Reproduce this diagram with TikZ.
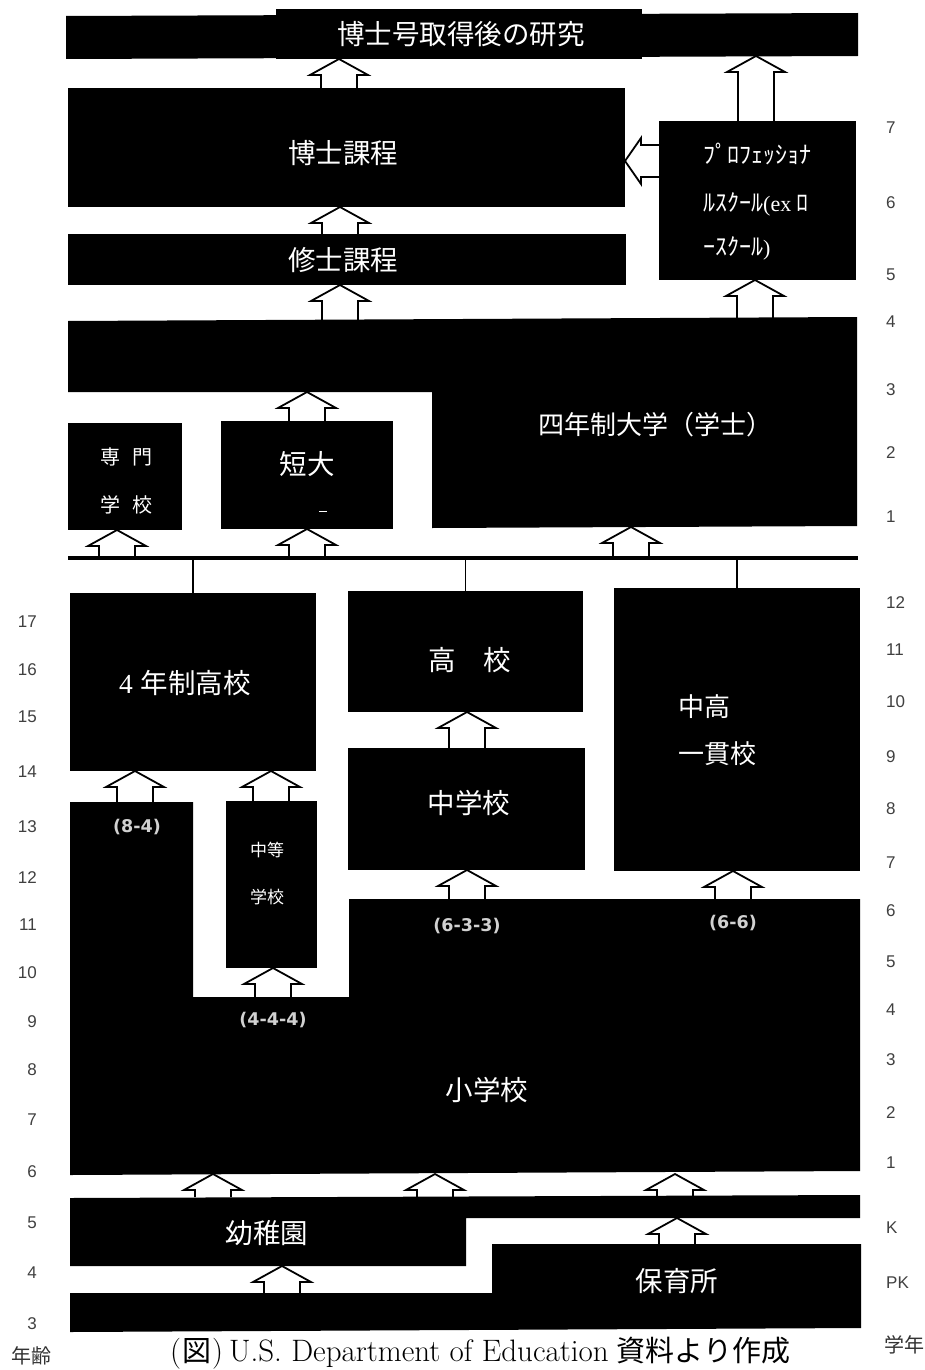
\documentclass[tikz,border=0pt]{standalone}
\usepackage{fontspec}
\usetikzlibrary{calc}
\newfontfamily\jpf{Noto Sans CJK JP}
\newfontfamily\numf{Liberation Sans}
\newfontfamily\seqf{DejaVu Sans}
\newfontfamily\serifL{Liberation Serif}
\newcommand\uarr[3]{\filldraw[arr] let \p1=(#2), \p2=(#3) in
  (#1-18,\y2) -- (#1-18,\y1-16pt) -- (#1-29,\y1-16pt) -- (#1,\y1) --
  (#1+29,\y1-16pt) -- (#1+18,\y1-16pt) -- (#1+18,\y2);}
\begin{document}
\begin{tikzpicture}[x=1pt,y=-1pt,
  box/.style={fill=black,draw=none,anchor=north west,inner sep=0pt,outer sep=0pt},
  blk/.style={fill=black,draw=none},
  jlab/.style={text=white,inner sep=0pt,font=\jpf\fontsize{27.5}{30}\selectfont},
  jmid/.style={text=white,inner sep=0pt,font=\jpf\fontsize{20}{22}\selectfont},
  jsmall/.style={text=white,inner sep=0pt,font=\jpf\fontsize{17}{19}\selectfont},
  proflab/.style={text=white,inner sep=0pt,anchor=west,font=\jpf\fontsize{24}{26}\selectfont},
  num/.style={text=black!75,inner sep=0pt,font=\numf\fontsize{17}{17}\selectfont},
  lnum/.style={num,anchor=east},
  rnum/.style={num,anchor=west},
  seqlab/.style={text=black!18,inner sep=0pt,font=\seqf\bfseries\fontsize{17.5}{18}\selectfont},
  side/.style={text=black!80,inner sep=0pt,font=\jpf\fontsize{20}{22}\selectfont},
  arr/.style={draw=black,fill=white,line width=1.8pt,line join=miter},
  conn/.style={draw=black,line width=1.5pt},
  barline/.style={draw=black,line width=4.5pt}]

\useasboundingbox (0,0) rectangle (924,1370);
\fill[white] (0,0) rectangle (924,1370);

% ---------- named reference points on the block outlines ----------
\coordinate (topbarR) at (756,56);
\coordinate (univTopL) at (340,320);
\coordinate (univTopR) at (755,318);
\coordinate (univStep) at (307,392);
\coordinate (univBot) at (631,527);
\coordinate (barL) at (68,558);
\coordinate (barR) at (858,558);
\coordinate (barTop) at (0,556);
\coordinate (shoTopL) at (135,802);
\coordinate (shoNotch) at (273,997);
\coordinate (shoTopR) at (600,899);
\coordinate (shoBot) at (400,1174);
\coordinate (youTop) at (400,1197);
\coordinate (youBotL) at (282,1266);
\coordinate (youBotR) at (677,1218);
\coordinate (hoiTopL) at (282,1293);
\coordinate (hoiTopR) at (677,1244);

% ---------- nodes (boxes) ----------
\node[box,minimum width=366pt,minimum height=50pt] (post) at (276,9) {};
\node[box,minimum width=557pt,minimum height=119pt] (hakase) at (68,88) {};
\node[box,minimum width=558pt,minimum height=51pt] (shushi) at (68,234) {};
\node[box,minimum width=197pt,minimum height=159pt] (prof) at (659,121) {};
\node[box,minimum width=114pt,minimum height=107pt] (senmon) at (68,423) {};
\node[box,minimum width=172pt,minimum height=108pt] (tandai) at (221,421) {};
\node[box,minimum width=246pt,minimum height=178pt] (kou4) at (70,593) {};
\node[box,minimum width=235pt,minimum height=121pt] (koukou) at (348,591) {};
\node[box,minimum width=237pt,minimum height=122pt] (chugaku) at (348,748) {};
\node[box,minimum width=246pt,minimum height=283pt] (ikkan) at (614,588) {};
\node[box,minimum width=91pt,minimum height=167pt] (chutou) at (226,801) {};

% ---------- arrows ----------
\uarr{339}{post.south}{hakase.north}
\uarr{756}{topbarR}{prof.north}
\uarr{340}{hakase.south}{shushi.north}
\uarr{340}{shushi.south}{univTopL}
\uarr{755}{prof.south}{univTopR}
\uarr{307}{univStep}{tandai.north}
\uarr{117}{senmon.south}{barTop}
\uarr{307}{tandai.south}{barTop}
\uarr{631}{univBot}{barTop}
\uarr{467}{koukou.south}{chugaku.north}
\uarr{135}{kou4.south}{shoTopL}
\uarr{271}{kou4.south}{chutou.north}
\uarr{273}{chutou.south}{shoNotch}
\uarr{467}{chugaku.south}{shoTopR}
\uarr{733}{ikkan.south}{shoTopR}
\uarr{213}{shoBot}{youTop}
\uarr{435}{shoBot}{youTop}
\uarr{675}{shoBot}{youTop}
\uarr{282}{youBotL}{hoiTopL}
\uarr{677}{youBotR}{hoiTopR}
\filldraw[arr] let \p1=(hakase.east), \p2=(prof.west) in
  (\x2,145) -- (\x1+16pt,145) -- (\x1+16pt,138) -- (\x1,161) --
  (\x1+16pt,184) -- (\x1+16pt,177) -- (\x2,177);

% ---------- blocks ----------
\fill[blk] (66,16) -- (858,13) -- (858,56) -- (66,59) -- cycle;
\fill[blk] (post.north west) rectangle (post.south east);
\fill[blk] (hakase.north west) rectangle (hakase.south east);
\fill[blk] (shushi.north west) rectangle (shushi.south east);
\fill[blk] (prof.north west) rectangle (prof.south east);
\fill[blk] (68,321) -- (857,317) -- (857,526) -- (432,528) -- (432,392) -- (68,392) -- cycle;
\fill[blk] (senmon.north west) rectangle (senmon.south east);
\fill[blk] (tandai.north west) rectangle (tandai.south east);
\draw[barline] (barL) -- (barR);
\draw[conn] (kou4.north) -- (kou4.north |- barL);
\draw[conn] (koukou.north) -- (koukou.north |- barL);
\draw[conn] (ikkan.north) -- (ikkan.north |- barL);
\fill[blk] (kou4.north west) rectangle (kou4.south east);
\fill[blk] (koukou.north west) rectangle (koukou.south east);
\fill[blk] (chugaku.north west) rectangle (chugaku.south east);
\fill[blk] (ikkan.north west) rectangle (ikkan.south east);
\fill[blk] (chutou.north west) rectangle (chutou.south east);
\fill[blk] (70,802) -- (193,802) -- (193,997) -- (349,997) -- (349,899) -- (860,899) -- (860,1171) -- (70,1175) -- cycle;
\fill[blk] (70,1198) -- (860,1195) -- (860,1218) -- (466,1218) -- (466,1266) -- (70,1266) -- cycle;
\fill[blk] (70,1293) -- (492,1293) -- (492,1244) -- (861,1244) -- (861,1328) -- (70,1332) -- cycle;

% ---------- texts in blocks ----------
\node[jlab] (t-post) at (461,34) {博士号取得後の研究};
\node[jlab] (t-hakase) at (343,153) {博士課程};
\node[jlab] (t-shushi) at (343,260) {修士課程};
\node[proflab] (t-prof1) at (703,154) {ﾌﾟﾛﾌｪｯｼｮﾅ};
\node[proflab] (t-prof2) at (703,204) {ﾙｽｸｰﾙ{\serifL\fontsize{22}{24}\selectfont(ex }ﾛ};
\node[proflab] (t-prof3) at (703,248) {ｰｽｸｰﾙ{\serifL\fontsize{22}{24}\selectfont)}};
\node[jlab,font=\jpf\fontsize{26}{28}\selectfont] (t-univ) at (655,425) {四年制大学（学士）};
\node[jmid] (t-senmon1) at (126,457) {専\hspace{12pt}門};
\node[jmid] (t-senmon2) at (126,505) {学\hspace{12pt}校};
\node[jlab] (t-tandai) at (307,464) {短大};
\draw[white,line width=1pt] (319,511) -- (327,511);
\node[jlab] (t-kou4) at (185,683) {{\serifL 4}\hspace{8pt}年制高校};
\node[jlab] (t-koukou) at (470,660) {高　校};
\node[jlab] (t-chugaku) at (469,803) {中学校};
\node[jlab,anchor=west,font=\jpf\fontsize{26}{28}\selectfont] (t-ikkan1) at (678,707) {中高};
\node[jlab,anchor=west,font=\jpf\fontsize{26}{28}\selectfont] (t-ikkan2) at (678,754) {一貫校};
\node[jsmall] (t-chutou1) at (267,850) {中等};
\node[jsmall] (t-chutou2) at (267,897) {学校};
\node[jlab] (t-shogaku) at (487,1090) {小学校};
\node[jlab] (t-youchi) at (267,1233) {幼稚園};
\node[jlab] (t-hoiku) at (677,1281) {保育所};

% ---------- system labels ----------
\node[seqlab] (s84) at (137,827) {(8-4)};
\node[seqlab] (s444) at (273,1020) {(4-4-4)};
\node[seqlab] (s633) at (467,926) {(6-3-3)};
\node[seqlab] (s66) at (733,923) {(6-6)};

% ---------- age (left) ----------
\node[lnum] (a17) at (37,622) {17};
\node[lnum] (a16) at (37,670) {16};
\node[lnum] (a15) at (37,717) {15};
\node[lnum] (a14) at (37,772) {14};
\node[lnum] (a13) at (37,827) {13};
\node[lnum] (a12) at (37,878) {12};
\node[lnum] (a11) at (37,925) {11};
\node[lnum] (a10) at (37,973) {10};
\node[lnum] (a9) at (37,1022) {9};
\node[lnum] (a8) at (37,1070) {8};
\node[lnum] (a7) at (37,1120) {7};
\node[lnum] (a6) at (37,1172) {6};
\node[lnum] (a5) at (37,1223) {5};
\node[lnum] (a4) at (37,1273) {4};
\node[lnum] (a3) at (37,1324) {3};
\node[side] (age) at (32,1356) {年齢};

% ---------- grade (right) ----------
\node[rnum] (g7u) at (886,128) {7};
\node[rnum] (g6u) at (886,203) {6};
\node[rnum] (g5u) at (886,275) {5};
\node[rnum] (g4u) at (886,322) {4};
\node[rnum] (g3u) at (886,390) {3};
\node[rnum] (g2u) at (886,453) {2};
\node[rnum] (g1u) at (886,517) {1};
\node[rnum] (g12) at (886,603) {12};
\node[rnum] (g11) at (886,650) {11};
\node[rnum] (g10) at (886,702) {10};
\node[rnum] (g9) at (886,757) {9};
\node[rnum] (g8) at (886,809) {8};
\node[rnum] (g7) at (886,863) {7};
\node[rnum] (g6) at (886,911) {6};
\node[rnum] (g5) at (886,962) {5};
\node[rnum] (g4) at (886,1010) {4};
\node[rnum] (g3) at (886,1060) {3};
\node[rnum] (g2) at (886,1113) {2};
\node[rnum] (g1) at (886,1163) {1};
\node[rnum] (gK) at (886,1228) {K};
\node[rnum] (gPK) at (886,1283) {PK};
\node[side,anchor=west] (grade) at (884,1345) {学年};

% ---------- caption ----------
\node[anchor=base west,inner sep=0pt,font=\fontsize{31}{33}\selectfont] (cap) at (170,1361)
  {(\hspace{1pt}{\jpf\fontsize{29}{31}\selectfont 図}\hspace{1pt})\hspace{6pt}U.S.\ Department of Education\hspace{8pt}{\jpf\fontsize{29}{31}\selectfont 資料より作成}};
\end{tikzpicture}
\end{document}
